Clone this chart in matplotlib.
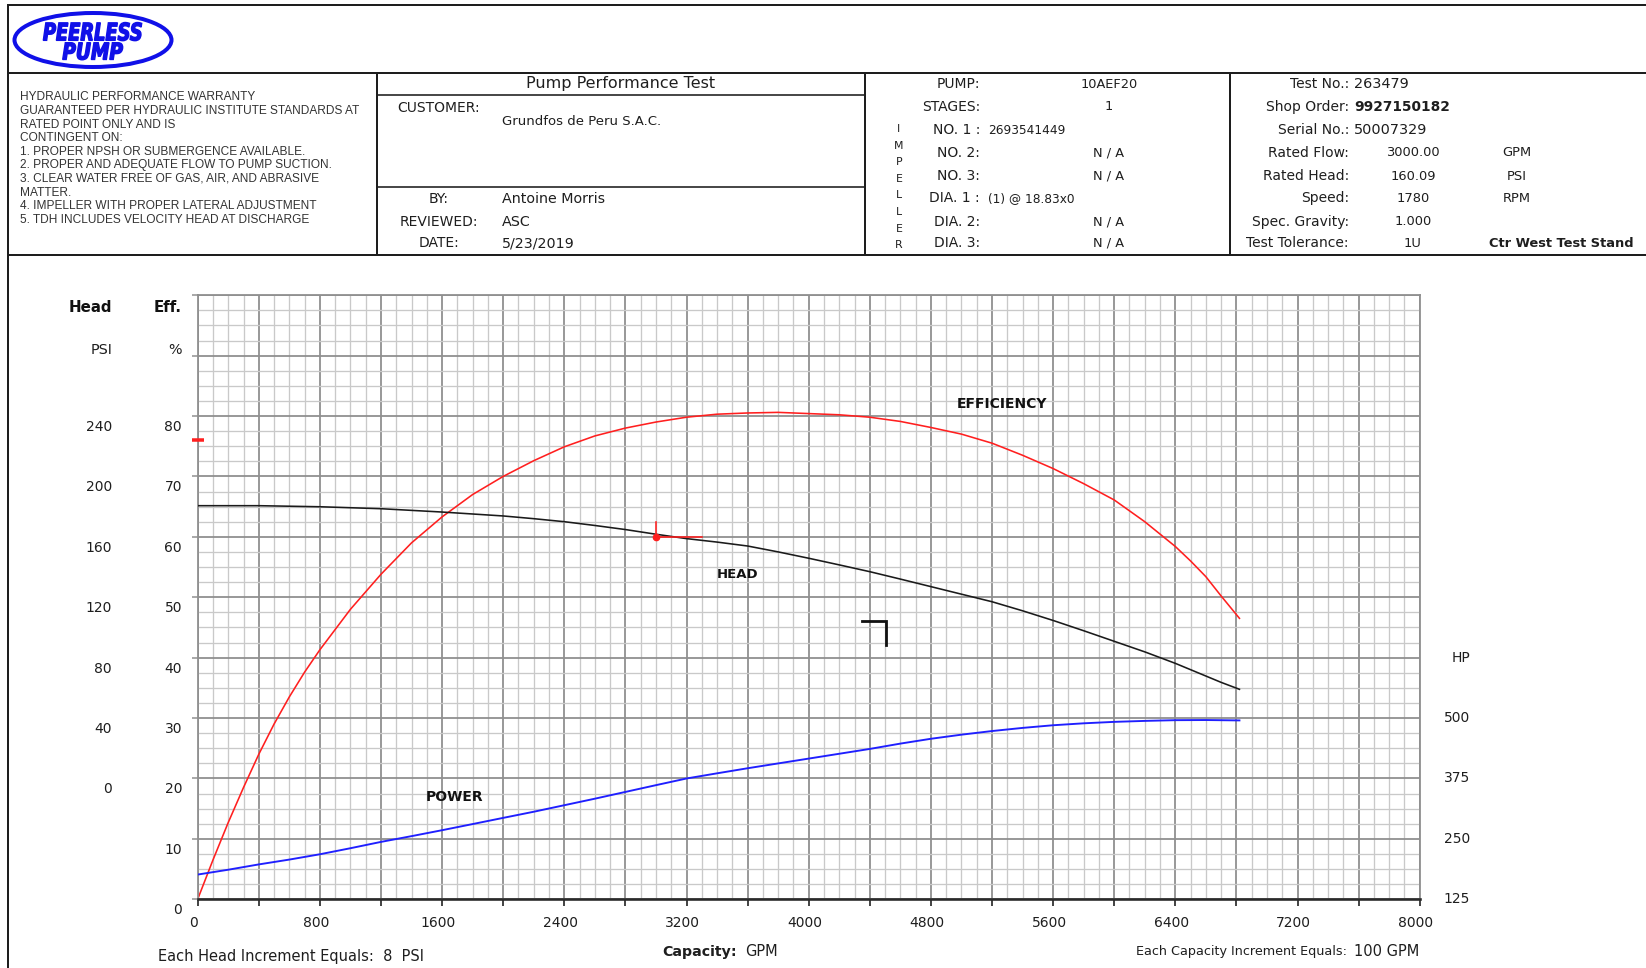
import numpy as np
import matplotlib
matplotlib.use("Agg")
import matplotlib.pyplot as plt
from matplotlib.patches import Ellipse, PathPatch
from matplotlib.textpath import TextPath
from matplotlib.font_manager import FontProperties
from matplotlib.transforms import Affine2D, ScaledTranslation, blended_transform_factory

W, H, DPI = 1646, 968, 100

# ---- test curves (GPM vs value) ----
flow_head = [0, 400, 800, 1200, 1600, 2000, 2200, 2400, 2600, 2800, 3000, 3200, 3400,
             3600, 3800, 4000, 4200, 4400, 4600, 4800, 5000, 5200, 5400, 5600, 5800,
             6000, 6200, 6400, 6500, 6600, 6700, 6820]
head_psi = [180.6, 180.6, 179.9, 178.6, 176.4, 173.8, 172.0, 170.0, 167.5, 164.8, 161.7,
            158.8, 156.5, 153.9, 150.0, 145.8, 141.4, 136.9, 132.0, 127.0, 122.0, 117.0,
            111.0, 104.6, 97.8, 90.8, 83.8, 76.2, 72.0, 67.8, 63.6, 59.0]

flow_eff = [0, 100, 200, 300, 400, 500, 600, 700, 800, 1000, 1200, 1400, 1600, 1800,
            2000, 2200, 2400, 2600, 2800, 3000, 3200, 3400, 3600, 3800, 4000, 4200,
            4400, 4600, 4800, 5000, 5200, 5400, 5600, 5800, 6000, 6200, 6400, 6500,
            6600, 6700, 6820]
eff_pct = [0, 6.5, 12.7, 18.5, 24.0, 29.0, 33.5, 37.6, 41.3, 48.0, 53.8, 59.0, 63.3,
           67.0, 70.0, 72.6, 74.9, 76.7, 78.0, 79.0, 79.8, 80.3, 80.5, 80.6, 80.4, 80.2,
           79.8, 79.1, 78.1, 77.0, 75.5, 73.5, 71.3, 68.8, 66.1, 62.5, 58.4, 56.0,
           53.4, 50.2, 46.5]

flow_power = [0, 200, 400, 600, 800, 1000, 1200, 1400, 1600, 1800, 2000, 2200, 2400,
              2600, 2800, 3000, 3200, 3400, 3600, 3800, 4000, 4200, 4400, 4600, 4800,
              5000, 5200, 5400, 5600, 5800, 6000, 6200, 6400, 6600, 6820]
power_hp = [176, 186, 197, 207, 218, 230.5, 243.6, 255.5, 267.8, 280.5, 293.3, 306,
            319.5, 333, 347, 361, 374.8, 385.5, 396, 406, 416, 426, 436, 447, 457,
            465.5, 473, 479.5, 485, 489, 492, 494, 495.5, 495.8, 495]

# rated point and tolerance cross
rated_flow, rated_head = 3000, 160.09
tol_flow, tol_head = 300, 10
guarantee_eff = 76.0
bracket_flow = [4350, 4506, 4506]
bracket_head = [104.4, 104.4, 88.3]

# axis labels
flow_ticks = [0, 800, 1600, 2400, 3200, 4000, 4800, 5600, 6400, 7200, 8000]
head_ticks = [240, 200, 160, 120, 80, 40, 0]
eff_ticks = [80, 70, 60, 50, 40, 30, 20, 10, 0]
hp_ticks = [500, 375, 250, 125]

warranty = ["HYDRAULIC PERFORMANCE WARRANTY",
            "GUARANTEED PER HYDRAULIC INSTITUTE STANDARDS AT",
            "RATED POINT ONLY AND IS",
            "CONTINGENT ON:",
            "1. PROPER NPSH OR SUBMERGENCE AVAILABLE.",
            "2. PROPER AND ADEQUATE FLOW TO PUMP SUCTION.",
            "3. CLEAR WATER FREE OF GAS, AIR, AND ABRASIVE",
            "MATTER.",
            "4. IMPELLER WITH PROPER LATERAL ADJUSTMENT",
            "5. TDH INCLUDES VELOCITY HEAD AT DISCHARGE"]

pump_labels = ["PUMP:", "STAGES:", "NO. 1 :", "NO. 2:", "NO. 3:", "DIA. 1 :", "DIA. 2:", "DIA. 3:"]
pump_center = ["10AEF20", "1", "", "N / A", "N / A", "", "N / A", "N / A"]
pump_left = ["", "", "2693541449", "", "", "(1) @ 18.83x0", "", ""]

test_labels = ["Test No.:", "Shop Order:", "Serial No.:", "Rated Flow:", "Rated Head:",
               "Speed:", "Spec. Gravity:", "Test Tolerance:"]
test_left = ["263479", "9927150182", "50007329", "", "", "", "", ""]
test_center = ["", "", "", "3000.00", "160.09", "1780", "1.000", "1U"]
test_units = ["", "", "", "GPM", "PSI", "RPM", "", ""]

FONT = "DejaVu Sans"
INK = "#1e1e1e"
PX = 0.72  # points per pixel at 100 dpi

fig = plt.figure(figsize=(W / DPI, H / DPI), dpi=DPI)
fig.patch.set_facecolor("white")

# page axes in pixel coordinates, y pointing down
page = fig.add_axes([0, 0, 1, 1])
page.set_xlim(0, W)
page.set_ylim(H, 0)
page.axis("off")


def seg(x0, y0, x1, y1, lw=2.0, c=INK):
    page.plot([x0, x1], [y0, y1], color=c, lw=lw * PX, solid_capstyle="projecting")


# frame
seg(8, 5, W, 5)
seg(8, 5, 8, H)
seg(8, 72.7, W, 72.7)
seg(8, 255, W, 255)
for xv in (377, 865, 1230):
    seg(xv, 72.7, xv, 255)
seg(377, 95, 865, 95, lw=1.6)
seg(377, 186.7, 865, 186.7, lw=1.6)

# logo
page.add_patch(Ellipse((93, 40), 157, 54, fill=False, ec="#1010e8", lw=4 * PX))
logo_fp = FontProperties(family=FONT, weight="bold", style="italic")
for word, (bx0, by0, bx1, by1) in (("PEERLESS", (43.3, 22.5, 141.7, 40.7)),
                                   ("PUMP", (62.7, 42.7, 122.7, 59.8))):
    tp = TextPath((0, 0), word, size=100, prop=logo_fp)
    bb = tp.get_extents()
    tr = (Affine2D().translate(-bb.x0, -bb.y0)
          .scale((bx1 - bx0) / bb.width, -(by1 - by0) / bb.height)
          .translate(bx0, by1))
    page.add_patch(PathPatch(tr.transform_path(tp), fc="#1010e8", ec="#1010e8", lw=1.0))

# warranty block
for i, line in enumerate(warranty):
    page.text(20, 97.3 + i * 13.6, line, fontsize=8.6, family="Liberation Sans",
              color="#333333", va="center", ha="left")

# middle block
page.text(621, 83.5, "Pump Performance Test", fontsize=11.5, family=FONT, color=INK,
          ha="center", va="center")
page.text(439, 108.3, "CUSTOMER:", fontsize=10, family=FONT, color=INK, ha="center", va="center")
page.text(502, 121.7, "Grundfos de Peru S.A.C.", fontsize=9.5, family=FONT, color=INK, va="center")
for lab, val, yv in (("BY:", "Antoine Morris", 199.3), ("REVIEWED:", "ASC", 221.7),
                     ("DATE:", "5/23/2019", 243.3)):
    page.text(439, yv, lab, fontsize=10, family=FONT, color=INK, ha="center", va="center")
    page.text(502, yv, val, fontsize=10.3, family=FONT, color=INK, ha="left", va="center")

# pump block
rows_y = [84, 106.7, 130, 152.7, 176, 198.3, 221.7, 243.3]
for lab, cv, lv, yv in zip(pump_labels, pump_center, pump_left, rows_y):
    page.text(980, yv, lab, fontsize=10, family=FONT, color=INK, ha="right", va="center")
    if cv:
        page.text(1109, yv, cv, fontsize=9.3, family=FONT, color=INK, ha="center", va="center")
    if lv:
        page.text(988, yv, lv, fontsize=8.7, family=FONT, color=INK, ha="left", va="center")
for i, ch in enumerate("IMPELLER"):
    page.text(899, 129 + i * 16.6, ch, fontsize=7.8, family=FONT, color=INK, ha="center", va="center")

# test block
for i, (lab, lv, cv, uv, yv) in enumerate(zip(test_labels, test_left, test_center, test_units, rows_y)):
    page.text(1349, yv, lab, fontsize=10, family=FONT, color=INK, ha="right", va="center")
    if lv:
        page.text(1354, yv, lv, fontsize=9.9 if i == 1 else 10.4, family=FONT, color=INK,
                  ha="left", va="center", weight="bold" if i == 1 else "normal")
    if cv:
        page.text(1413, yv, cv, fontsize=9.4, family=FONT, color=INK, ha="center", va="center")
    if uv:
        page.text(1517, yv, uv, fontsize=9.4, family=FONT, color=INK, ha="center", va="center")
page.text(1561, 243.3, "Ctr West Test Stand", fontsize=9.4, family=FONT, weight="bold",
          color=INK, ha="center", va="center")

# bottom captions
page.text(158, 956, "Each Head Increment Equals:  8  PSI", fontsize=10.5, family=FONT,
          color=INK, ha="left", va="center")
page.text(737, 952, "Capacity:", fontsize=10.2, family=FONT, weight="bold", color=INK,
          ha="right", va="center")
page.text(745, 952, "GPM", fontsize=10.5, family=FONT, color=INK, ha="left", va="center")
page.text(1347, 952, "Each Capacity Increment Equals:", fontsize=9.2, family=FONT,
          color=INK, ha="right", va="center")
page.text(1419, 952, "100 GPM", fontsize=10.5, family=FONT, color=INK, ha="right", va="center")

# ---- chart grid ----
gx0, gx1, gy0, gy1 = 197.7, 1419.7, 295.2, 899.2
ax = fig.add_axes([gx0 / W, 1 - gy1 / H, (gx1 - gx0) / W, (gy1 - gy0) / H])
ax.set_facecolor("none")
ax.set_xlim(0, 8000)
ax.set_ylim(0, 100)
ax.set_xticks(np.arange(0, 8001, 400))
ax.set_xticks(np.arange(0, 8001, 100), minor=True)
ax.set_yticks(np.arange(0, 101, 10))
ax.set_yticks(np.arange(0, 101, 2.5), minor=True)
ax.grid(which="minor", color="#c9c9c9", lw=1.3 * PX)
ax.grid(which="major", color="#8f8f8f", lw=1.8 * PX)
ax.set_axisbelow(True)
ax.tick_params(which="minor", length=0)
ax.tick_params(axis="x", which="major", length=5, width=1.8 * PX, color="#333333",
               labelbottom=False)
ax.tick_params(axis="y", which="major", length=4, width=1.5 * PX, color="#8f8f8f",
               labelleft=False)
for side in ("top", "left", "right"):
    ax.spines[side].set_color("#8f8f8f")
    ax.spines[side].set_linewidth(1.8 * PX)
ax.spines["bottom"].set_color("#2a2a2a")
ax.spines["bottom"].set_linewidth(2.6 * PX)

ax_head = ax.twinx()
ax_head.set_ylim(-80, 320)
ax_head.axis("off")
ax_hp = ax.twinx()
ax_hp.set_ylim(125, 1375)
ax_hp.axis("off")

ax.plot(flow_eff, eff_pct, color="#ff1f1f", lw=1.6 * PX)
ax_head.plot(flow_head, head_psi, color="#1a1a1a", lw=1.6 * PX)
ax_hp.plot(flow_power, power_hp, color="#1f1fff", lw=1.9 * PX)

# markers
ax_hp.plot([-39, 43], [125 + guarantee_eff * 12.5] * 2, color="#ff1f1f", lw=3.5 * PX,
           clip_on=False, solid_capstyle="butt", zorder=10)
ax_head.plot([rated_flow, rated_flow], [rated_head, rated_head + tol_head], color="#ff1f1f", lw=1.6 * PX)
ax_head.plot([rated_flow, rated_flow + tol_flow], [rated_head, rated_head], color="#ff1f1f", lw=1.6 * PX)
ax_head.plot([rated_flow], [rated_head], "o", color="#ff1f1f", ms=4.5)
ax_head.plot(bracket_flow, bracket_head, color="#111111", lw=2.8 * PX, solid_joinstyle="miter")

# curve names
ax.text(5263, 82.0, "EFFICIENCY", fontsize=10, weight="bold", family=FONT, color="#111111",
        ha="center", va="center")
ax.text(3535, 53.7, "HEAD", fontsize=9.5, weight="bold", family=FONT, color="#111111",
        ha="center", va="center")
ax.text(1684, 17.0, "POWER", fontsize=10, weight="bold", family=FONT, color="#111111",
        ha="center", va="center")

# tick labels
down = ScaledTranslation(0, -11 / DPI, fig.dpi_scale_trans)
tr_head = blended_transform_factory(ax.transAxes, ax_head.transData) + down
tr_eff = blended_transform_factory(ax.transAxes, ax.transData) + down
tr_hp = blended_transform_factory(ax.transAxes, ax_hp.transData)
tr_x = blended_transform_factory(ax.transData, ax.transAxes)
lx_head = (112 - gx0) / (gx1 - gx0)
lx_eff = (182 - gx0) / (gx1 - gx0)
lx_hp = (1470 - gx0) / (gx1 - gx0)
for v in head_ticks:
    ax.text(lx_head, v, str(v), transform=tr_head, fontsize=10, family=FONT, color=INK,
            ha="right", va="center", clip_on=False)
for v in eff_ticks:
    ax.text(lx_eff, v, str(v), transform=tr_eff, fontsize=10, family=FONT, color=INK,
            ha="right", va="center", clip_on=False)
for v in hp_ticks:
    ax.text(lx_hp, v, str(v), transform=tr_hp, fontsize=10, family=FONT, color=INK,
            ha="right", va="center", clip_on=False)
ax.text(lx_hp, 625, "HP", transform=tr_hp, fontsize=10, family=FONT, color=INK,
        ha="right", va="center", clip_on=False)
yl = -(923 - gy1) / (gy1 - gy0)
for v in flow_ticks:
    ax.text(v - 25, yl, str(v), transform=tr_x, fontsize=10, family=FONT, color=INK,
            ha="center", va="center", clip_on=False)

yh = (gy1 - 307.3) / (gy1 - gy0)
yu = (gy1 - 350) / (gy1 - gy0)
ax.text(lx_head, yh, "Head", transform=ax.transAxes, fontsize=10.8, weight="bold",
        family=FONT, color="#111111", ha="right", va="center")
ax.text(lx_eff, yh, "Eff.", transform=ax.transAxes, fontsize=10.8, weight="bold",
        family=FONT, color="#111111", ha="right", va="center")
ax.text(lx_head, yu, "PSI", transform=ax.transAxes, fontsize=10.3, family=FONT,
        color=INK, ha="right", va="center")
ax.text(lx_eff, yu, "%", transform=ax.transAxes, fontsize=10.3, family=FONT,
        color=INK, ha="right", va="center")

fig.savefig("out.png", dpi=DPI)
